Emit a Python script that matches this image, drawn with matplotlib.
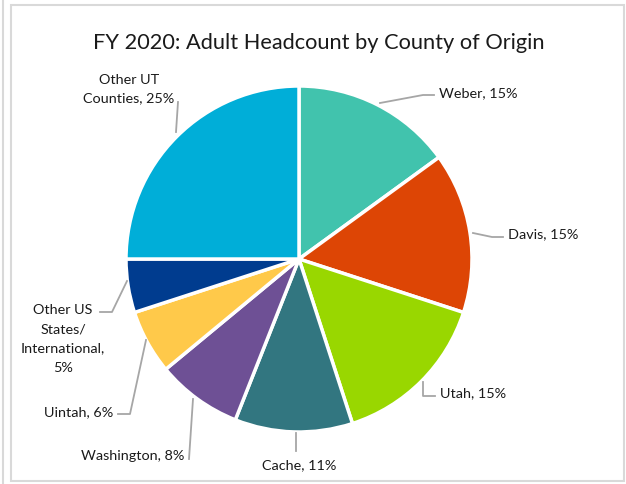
import matplotlib
matplotlib.use("Agg")
import matplotlib.pyplot as plt
from matplotlib.patches import Rectangle
from matplotlib.lines import Line2D

categories = ["Weber", "Davis", "Utah", "Cache", "Washington", "Uintah",
              "Other US States/ International", "Other UT Counties"]
values = [15, 15, 15, 11, 8, 6, 5, 25]
label_texts = ["Weber, 15%", "Davis, 15%", "Utah, 15%", "Cache, 11%",
               "Washington, 8%", "Uintah, 6%",
               "Other US\nStates/\nInternational,\n5%", "Other UT\nCounties, 25%"]
colors = ["#41C3AD", "#DD4505", "#99D700", "#327680", "#6E5095",
          "#FFC94A", "#003C8F", "#00AED8"]

W, H = 626, 485
fig = plt.figure(figsize=(W / 100, H / 100), dpi=100)
ax = fig.add_axes([0, 0, 1, 1])
ax.set_xlim(0, W)
ax.set_ylim(0, H)
ax.set_aspect("equal")
ax.axis("off")

def Y(y):
    return H - y

# frames
ax.add_line(Line2D([3, 3], [0, H], color="#D9D9D9", lw=1.5))
ax.add_patch(Rectangle((10.5, Y(482)), 613, 476, fill=False, ec="#D9D9D9", lw=1.5))

cx, cy, r = 299, 260, 173
ax.pie(values, colors=colors, startangle=90, counterclock=False,
       center=(cx, Y(cy)), radius=r,
       wedgeprops=dict(edgecolor="white", linewidth=2.5), frame=True)
ax.set_xlim(0, W)
ax.set_ylim(0, H)
ax.axis("off")

font = "Lato"
ax.text(319, Y(43), "FY 2020: Adult Headcount by County of Origin",
        ha="center", va="center", fontsize=15.7, family=font, color="#1a1a1a")

lc = "#A6A6A6"
def leader(pts):
    xs = [p[0] for p in pts]
    ys = [Y(p[1]) for p in pts]
    ax.add_line(Line2D(xs, ys, color=lc, lw=1.3))

fs = 10.4
tc = "#1a1a1a"
# Weber
leader([(380, 104), (423, 96), (434, 96)])
ax.text(439, Y(93), label_texts[0], ha="left", va="center", fontsize=fs, family=font, color=tc)
# Davis
leader([(473, 234), (492, 238), (503, 238)])
ax.text(508, Y(234), label_texts[1], ha="left", va="center", fontsize=fs, family=font, color=tc)
# Utah
leader([(423, 383), (423, 397), (435, 397)])
ax.text(440, Y(393), label_texts[2], ha="left", va="center", fontsize=fs, family=font, color=tc)
# Cache
leader([(296, 434), (296, 452)])
ax.text(299, Y(465), label_texts[3], ha="center", va="center", fontsize=fs, family=font, color=tc)
# Washington
leader([(193, 400), (189, 460)])
ax.text(184, Y(456), label_texts[4], ha="right", va="center", fontsize=fs, family=font, color=tc)
# Uintah
leader([(146, 341), (130, 415), (118, 415)])
ax.text(113, Y(412), label_texts[5], ha="right", va="center", fontsize=fs, family=font, color=tc)
# Other US
leader([(127, 282), (112, 313), (100, 313)])
ax.text(63, Y(339), label_texts[6], ha="center", va="center", fontsize=fs, family=font,
        color=tc, linespacing=1.7)
# Other UT
leader([(178, 103), (176, 133)])
ax.text(129, Y(89), label_texts[7], ha="center", va="center", fontsize=fs, family=font,
        color=tc, linespacing=1.6)

fig.savefig("out.png", dpi=100)
